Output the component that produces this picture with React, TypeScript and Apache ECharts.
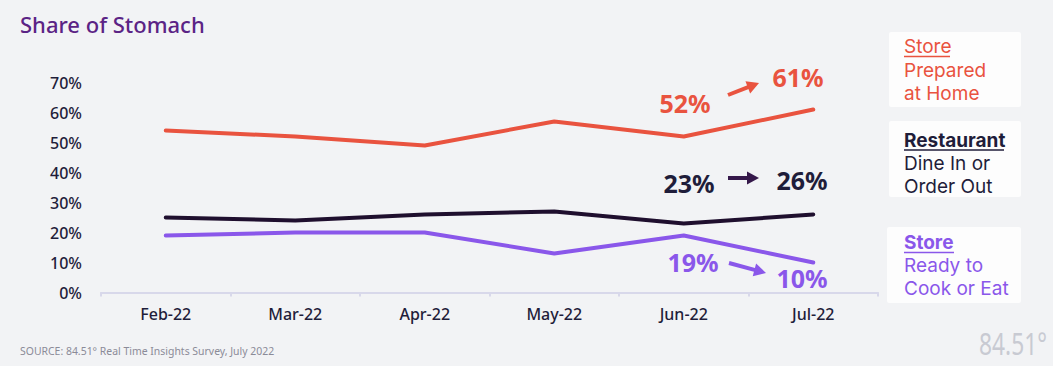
import React, { useEffect, useRef } from "react";
import * as echarts from "echarts";

const months = ["Feb-22", "Mar-22", "Apr-22", "May-22", "Jun-22", "Jul-22"];
const storePrepared = [54, 52, 49, 57, 52, 61];
const restaurant = [25, 24, 26, 27, 23, 26];
const storeReady = [19, 20, 20, 13, 19, 10];
const yMax = 70;
const yInterval = 10;

const RED = "#e9533f";
const DARK = "#1f1d3a";
const LINE_DARK = "#1f0f2e";
const PURPLE = "#8a57ea";
const FONT = "'Noto Sans', sans-serif";
const LEG_FONT = "Inter, 'Noto Sans', sans-serif";
const LH = 23.3;

function arrow(x1: number, y1: number, x2: number, y2: number, color: string) {
  const dx = x2 - x1;
  const dy = y2 - y1;
  const len = Math.sqrt(dx * dx + dy * dy);
  const ux = dx / len;
  const uy = dy / len;
  const headLen = 12;
  const headHalf = 6.5;
  const bx = x2 - ux * headLen;
  const by = y2 - uy * headLen;
  return [
    {
      type: "line",
      shape: { x1, y1, x2: bx + ux * 1, y2: by + uy * 1 },
      style: { stroke: color, lineWidth: 4 },
      silent: true,
    },
    {
      type: "polygon",
      shape: {
        points: [
          [x2, y2],
          [bx - uy * headHalf, by + ux * headHalf],
          [bx + uy * headHalf, by - ux * headHalf],
        ],
      },
      style: { fill: color },
      silent: true,
    },
  ];
}

function label(text: string, x: number, y: number, color: string) {
  return {
    type: "text",
    x,
    y,
    style: {
      text,
      fill: color,
      font: `bold 25px ${FONT}`,
      align: "center",
      verticalAlign: "middle",
    },
    silent: true,
  };
}

function legendLine(text: string, centerY: number, color: string, bold: boolean) {
  return {
    type: "text",
    x: 904,
    y: centerY,
    style: {
      text,
      fill: color,
      font: `${bold ? "bold" : "normal"} 19px ${LEG_FONT}`,
      align: "left",
      verticalAlign: "middle",
    },
    silent: true,
  };
}

function underline(x1: number, x2: number, y: number, color: string) {
  return {
    type: "line",
    shape: { x1, y1: y, x2, y2: y },
    style: { stroke: color, lineWidth: 1.5 },
    silent: true,
  };
}

export default function App() {
  const ref = useRef<HTMLDivElement>(null);

  useEffect(() => {
    document.body.style.margin = "0";
    if (!ref.current) return;
    const chart = echarts.init(ref.current, null, { renderer: "svg" });

    const lineSeries = (name: string, data: number[], color: string) => ({
      name,
      type: "line",
      data,
      symbol: "none",
      smooth: false,
      lineStyle: { color, width: 4, cap: "round", join: "round" },
      itemStyle: { color },
      z: 3,
    });

    const graphic: any[] = [
      {
        type: "text",
        x: 20,
        y: 24,
        style: {
          text: "Share of Stomach",
          fill: "#5b2385",
          font: `500 22px ${FONT}`,
          verticalAlign: "middle",
        },
      },
      {
        type: "text",
        x: 20,
        y: 351,
        scaleX: 0.95,
        style: {
          text: "SOURCE: 84.51° Real Time Insights Survey, July 2022",
          fill: "#8b8b98",
          font: `11px ${FONT}`,
          verticalAlign: "middle",
        },
      },
      {
        type: "text",
        x: 1047,
        y: 344,
        scaleX: 0.76,
        style: {
          text: "84.51°",
          fill: "#c8cad2",
          font: `30px ${FONT}`,
          align: "right",
          verticalAlign: "middle",
        },
      },
      // annotations
      label(`${storePrepared[4]}%`, 685, 103, RED),
      label(`${storePrepared[5]}%`, 798, 77, RED),
      label(`${restaurant[4]}%`, 689, 183, DARK),
      label(`${restaurant[5]}%`, 802, 180, DARK),
      label(`${storeReady[4]}%`, 693, 262, PURPLE),
      label(`${storeReady[5]}%`, 802, 278, PURPLE),
      ...arrow(728, 95, 759, 83, RED),
      ...arrow(728, 178, 759, 178, "#35184a"),
      ...arrow(729, 263, 766, 273, PURPLE),
      // legend boxes
      {
        type: "rect",
        shape: { x: 889, y: 32, width: 132, height: 75, r: 2 },
        style: { fill: "#fdfdfd" },
        silent: true,
      },
      {
        type: "rect",
        shape: { x: 889, y: 121, width: 132, height: 76, r: 2 },
        style: { fill: "#fdfdfd" },
        silent: true,
      },
      {
        type: "rect",
        shape: { x: 887, y: 227, width: 134, height: 76, r: 2 },
        style: { fill: "#fdfdfd" },
        silent: true,
      },
      legendLine("Store", 46.7, RED, false),
      legendLine("Prepared", 46.7 + LH, RED, false),
      legendLine("at Home", 46.7 + 2 * LH, RED, false),
      underline(904, 950, 56.5, RED),
      legendLine("Restaurant", 140, DARK, true),
      legendLine("Dine In or", 140 + LH, DARK, false),
      legendLine("Order Out", 140 + 2 * LH, DARK, false),
      underline(904, 1004, 150, DARK),
      legendLine("Store", 242.3, PURPLE, true),
      legendLine("Ready to", 242.3 + LH, PURPLE, false),
      legendLine("Cook or Eat", 242.3 + 2 * LH, PURPLE, false),
      underline(904, 954, 252.5, PURPLE),
    ];

    chart.setOption({
      animation: false,
      backgroundColor: "#f2f3f5",
      grid: { left: 101, right: 175, top: 82.5, bottom: 73.5, containLabel: false },
      xAxis: {
        type: "category",
        data: months,
        boundaryGap: true,
        axisLine: { show: true, lineStyle: { color: "#d8d8ea", width: 2 } },
        axisTick: { show: true, length: 4, lineStyle: { color: "#d8d8ea", width: 2 } },
        axisLabel: {
          color: DARK,
          fontSize: 16,
          fontWeight: 500,
          fontFamily: FONT,
          margin: 13,
        },
        splitLine: { show: false },
      },
      yAxis: {
        type: "value",
        min: 0,
        max: yMax,
        interval: yInterval,
        axisLine: { show: false },
        axisTick: { show: false },
        splitLine: { show: false },
        axisLabel: {
          formatter: "{value}%",
          color: DARK,
          fontSize: 16,
          fontWeight: 500,
          fontFamily: FONT,
          margin: 19,
        },
      },
      series: [
        lineSeries("Store Prepared at Home", storePrepared, RED),
        lineSeries("Restaurant Dine In or Order Out", restaurant, LINE_DARK),
        lineSeries("Store Ready to Cook or Eat", storeReady, PURPLE),
      ],
      graphic,
    });

    return () => chart.dispose();
  }, []);

  return <div ref={ref} style={{ width: 1053, height: 366, background: "#f2f3f5" }} />;
}
